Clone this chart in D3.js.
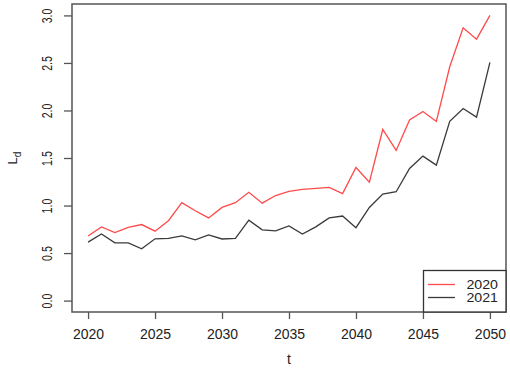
<!DOCTYPE html>
<html>
<head>
<meta charset="utf-8">
<script src="https://cdn.jsdelivr.net/npm/d3@7"></script>
<style>
  html, body { margin: 0; padding: 0; background: #fff; }
  svg { display: block; font-family: "Liberation Sans", Arial, sans-serif; }
</style>
</head>
<body>
<script>
const years = d3.range(2020, 2051);
const series2020 = [0.68, 0.775, 0.715, 0.77, 0.80, 0.73, 0.84, 1.03, 0.945, 0.87, 0.98,
  1.03, 1.14, 1.025, 1.105, 1.15, 1.17, 1.18, 1.19, 1.125, 1.40,
  1.245, 1.80, 1.58, 1.90, 1.99, 1.885, 2.46, 2.87, 2.75, 3.00];
const series2021 = [0.615, 0.70, 0.607, 0.607, 0.545, 0.65, 0.655, 0.68, 0.64, 0.69, 0.648,
  0.655, 0.846, 0.744, 0.734, 0.786, 0.70, 0.776, 0.87, 0.89, 0.767,
  0.98, 1.12, 1.145, 1.39, 1.52, 1.425, 1.885, 2.02, 1.93, 2.505];
const yTicks = [0, 0.5, 1, 1.5, 2, 2.5, 3];
const xTicks = [2020, 2025, 2030, 2035, 2040, 2045, 2050];
const seriesNames = ["2020", "2021"];
const seriesColors = ["#ff4a4a", "#3a3a3a"];

const W = 510, H = 370;
const svg = d3.select("body").append("svg").attr("width", W).attr("height", H);

const x = d3.scaleLinear().domain([2018.8, 2051.2]).range([72, 506]);
const y = d3.scaleLinear().domain([-0.12, 3.12]).range([312, 4]);

// box
svg.append("rect").attr("x", 72).attr("y", 4).attr("width", 434).attr("height", 308)
  .attr("fill", "none").attr("stroke", "#555").attr("stroke-width", 1.5);

// y axis
const yAxis = svg.append("g").attr("transform", "translate(72,0)")
  .call(d3.axisLeft(y).tickValues(yTicks).tickFormat(d3.format(".1f")).tickSize(8).tickSizeOuter(0));
yAxis.select(".domain").remove();
yAxis.selectAll(".tick line").attr("stroke", "#555").attr("stroke-width", 1.3);
yAxis.selectAll(".tick text")
  .attr("x", null).attr("dy", null)
  .attr("text-anchor", "middle")
  .attr("transform", "translate(-20,0) rotate(-90) scale(0.85,1.2)")
  .attr("font-size", 12.5).attr("fill", "#222")
  .attr("font-family", "Liberation Sans, Arial, sans-serif");

// x axis
const xAxis = svg.append("g").attr("transform", "translate(0,312)")
  .call(d3.axisBottom(x).tickValues(xTicks).tickFormat(d3.format("d")).tickSize(7).tickSizeOuter(0));
xAxis.select(".domain").remove();
xAxis.selectAll(".tick line").attr("stroke", "#555").attr("stroke-width", 1.3);
xAxis.selectAll(".tick text")
  .attr("y", 27).attr("dy", null)
  .attr("font-size", 14).attr("fill", "#222")
  .attr("font-family", "Liberation Sans, Arial, sans-serif");

// axis titles
svg.append("text").attr("x", 289).attr("y", 364).attr("text-anchor", "middle")
  .attr("font-size", 14).attr("fill", "#222").text("t");
const yl = svg.append("text").attr("transform", "translate(17,158) rotate(-90)")
  .attr("text-anchor", "middle").attr("font-size", 13).attr("fill", "#222");
yl.append("tspan").text("L");
yl.append("tspan").attr("dy", 4).attr("font-size", 10).text("d");

// lines
const line = d3.line().x((d, i) => x(years[i])).y(d => y(d));
[series2020, series2021].forEach((s, k) => {
  svg.append("path").datum(s).attr("d", line).attr("fill", "none")
    .attr("stroke", seriesColors[k]).attr("stroke-width", 1.3);
});

// legend
const lg = svg.append("g");
lg.append("rect").attr("x", 423.5).attr("y", 270.5).attr("width", 82.5).attr("height", 41.5)
  .attr("fill", "#fff").attr("stroke", "#333").attr("stroke-width", 1.3);
seriesNames.forEach((n, k) => {
  const yy = 284.5 + k * 13;
  lg.append("line").attr("x1", 428).attr("x2", 455).attr("y1", yy).attr("y2", yy)
    .attr("stroke", seriesColors[k]).attr("stroke-width", 1.3);
  lg.append("text").attr("transform", `translate(466.5,${yy + 4.5}) scale(1.18,1)`)
    .attr("font-size", 12).attr("fill", "#222").text(n);
});
</script>
</body>
</html>
